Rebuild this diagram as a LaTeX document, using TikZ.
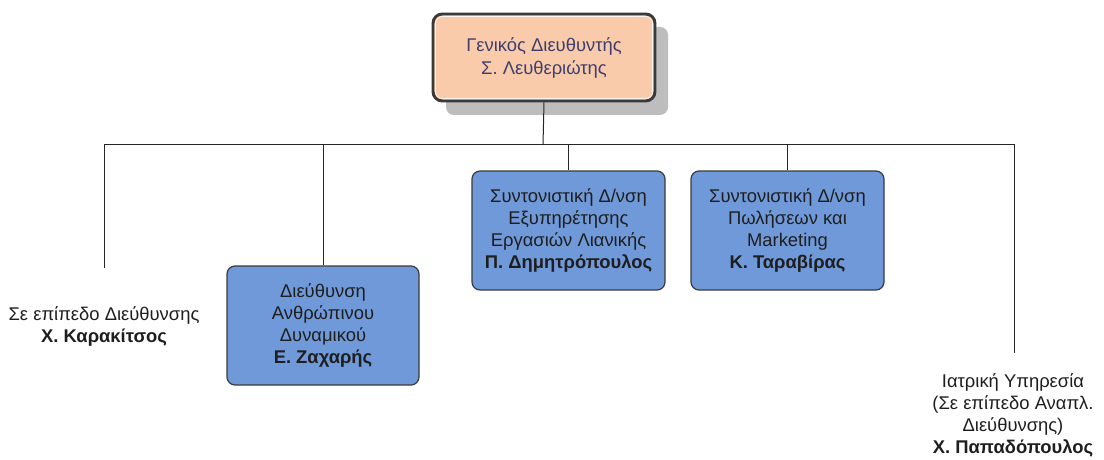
\documentclass[tikz,border=0pt]{standalone}
\usepackage{fontspec}
\setmainfont{Liberation Sans}
\definecolor{bluebox}{HTML}{7099D9}
\definecolor{peach}{HTML}{F9CBAA}
\definecolor{shadowgray}{HTML}{BDBDBD}
\definecolor{edgegray}{HTML}{3A3A3A}
\definecolor{titleblue}{HTML}{3E3E6E}
\definecolor{txt}{HTML}{1E1E1E}
\begin{document}
\begin{tikzpicture}[x=0.75pt,y=-0.75pt,
  unitbox/.style={draw=edgegray, line width=0.9pt, rounded corners=6pt, fill=bluebox,
    align=center, text=txt, font=\fontsize{13.8}{16.6}\selectfont, inner sep=0pt},
  plain/.style={align=center, text=txt, font=\fontsize{13.8}{16.6}\selectfont, inner sep=0pt},
  link/.style={draw=black!85, line width=0.75pt}]
\useasboundingbox (0,0) rectangle (1104,460);
% top box with shadow
\fill[shadowgray, rounded corners=6pt] (446,27) rectangle (668,115);
\node[draw=edgegray, line width=2.2pt, rounded corners=7pt, fill=peach,
  minimum width=222*0.75pt, minimum height=87*0.75pt, inner sep=0pt] (gm) at (544,57.5) {};
\draw[white!85!peach, line width=0.6pt, rounded corners=5pt] (435.5,16.5) rectangle (652.5,98.5);
\node[align=center, text=titleblue, font=\fontsize{13.8}{16.6}\selectfont] (gmt) at (544,58) {Γενικός Διευθυντής\\Σ. Λευθεριώτης};
% boxes
\node[unitbox, minimum width=192*0.75pt, minimum height=119*0.75pt] (hr) at (323,325.5)
  {Διεύθυνση\\Ανθρώπινου\\Δυναμικού\\\textbf{Ε. Ζαχαρής}};
\node[unitbox, minimum width=193*0.75pt, minimum height=119*0.75pt] (retail) at (568.5,230.5)
  {Συντονιστική Δ/νση\\Εξυπηρέτησης\\Εργασιών Λιανικής\\\textbf{Π. Δημητρόπουλος}};
\node[unitbox, minimum width=193*0.75pt, minimum height=119*0.75pt] (sales) at (787.5,230.5)
  {Συντονιστική Δ/νση\\Πωλήσεων και\\Marketing\\\textbf{Κ. Ταραβίρας}};
% plain text units
\node[plain, anchor=north] (dir) at (104,306) {Σε επίπεδο Διεύθυνσης\\\textbf{Χ. Καρακίτσος}};
\node[plain, anchor=north] (med) at (1013,373) {Ιατρική Υπηρεσία\\(Σε επίπεδο Αναπλ.\\Διεύθυνσης)\\\textbf{Χ. Παπαδόπουλος}};
% connectors
\coordinate (bus) at (543,145);
\coordinate (dirtop) at (104,268);
\coordinate (medtop) at (1014,353);
\draw[link] (gm.south) -- (bus);
\draw[link] (dirtop) -- (104,145) -- (1014,145) -- (medtop);
\draw[link] (hr.north) -- (323,145);
\draw[link] (retail.north) -- (568.5,145);
\draw[link] (sales.north) -- (787.5,145);
\end{tikzpicture}
\end{document}
